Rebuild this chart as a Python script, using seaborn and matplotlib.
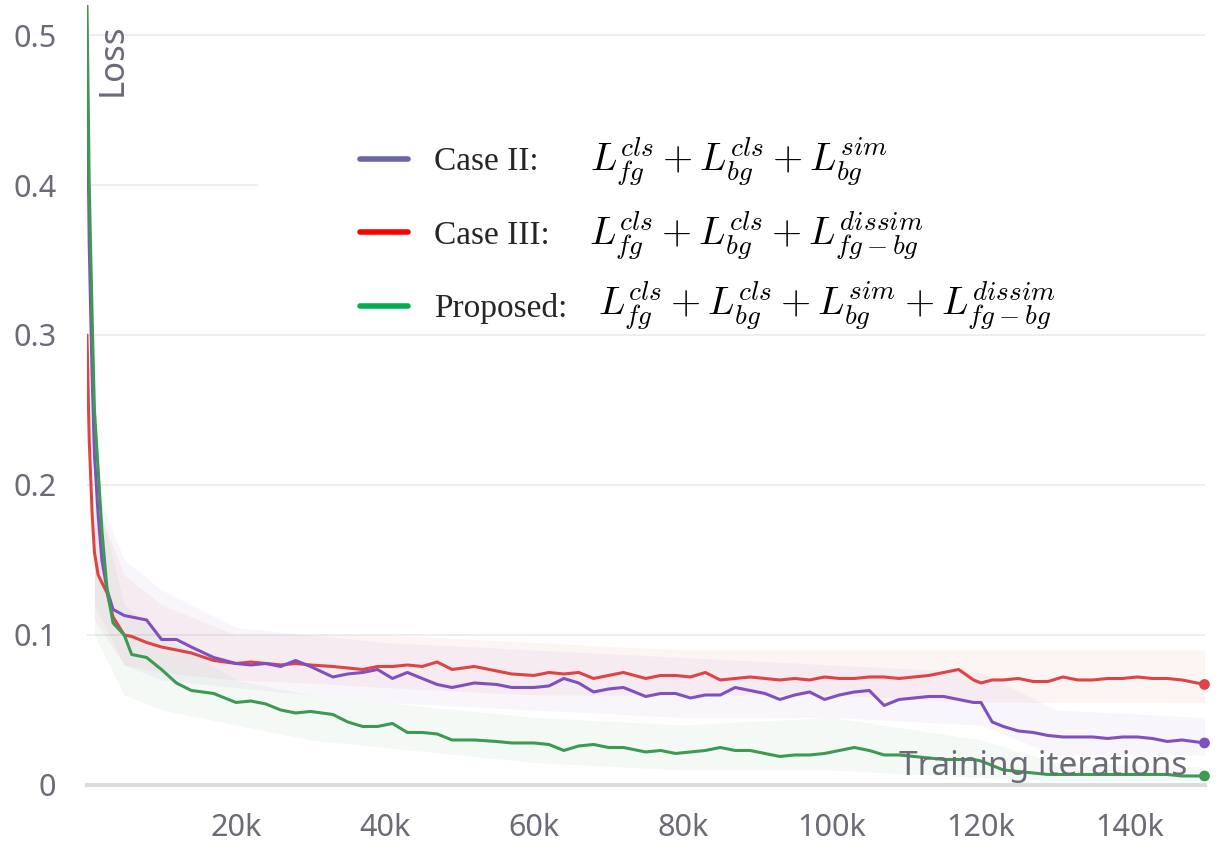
import matplotlib
matplotlib.use('Agg')
import matplotlib.pyplot as plt
from matplotlib.lines import Line2D
from matplotlib.patches import Rectangle
from matplotlib.ticker import FuncFormatter
import seaborn as sns
import pandas as pd

# training iterations (in k) where the smoothed curves were read
iters_k = [0, 0.3, 0.7, 1, 1.5, 2, 2.7, 3.5, 5, 6, 8, 10, 12, 14, 17, 20, 22, 24, 26, 28,
           30, 33, 35, 37, 39, 41, 43, 45, 47, 49, 52, 55, 57, 60, 62, 64, 66, 68, 70, 72,
           75, 77, 79, 81, 83, 85, 87, 89, 91, 93, 95, 97, 99, 101, 103, 105, 107, 109, 111, 113,
           115, 117, 119, 120, 121.5, 123, 125, 127, 129, 131, 133, 135, 137, 139, 141, 143, 145, 147, 150]

loss_case2 = [0.49, 0.36, 0.27, 0.22, 0.18, 0.15, 0.13, 0.117, 0.113, 0.112, 0.110, 0.097, 0.097, 0.092, 0.085, 0.081, 0.080, 0.081, 0.079, 0.083,
              0.079, 0.072, 0.074, 0.075, 0.077, 0.071, 0.075, 0.071, 0.067, 0.065, 0.068, 0.067, 0.065, 0.065, 0.066, 0.071, 0.068, 0.062, 0.064, 0.065,
              0.059, 0.061, 0.061, 0.058, 0.060, 0.060, 0.065, 0.063, 0.061, 0.057, 0.060, 0.062, 0.057, 0.060, 0.062, 0.063, 0.053, 0.057, 0.058, 0.059,
              0.059, 0.057, 0.055, 0.055, 0.042, 0.039, 0.036, 0.035, 0.033, 0.032, 0.032, 0.032, 0.031, 0.032, 0.032, 0.031, 0.029, 0.030, 0.028]

loss_case3 = [0.30, 0.23, 0.18, 0.155, 0.14, 0.135, 0.128, 0.112, 0.100, 0.099, 0.095, 0.092, 0.090, 0.088, 0.083, 0.081, 0.082, 0.081, 0.080, 0.081,
              0.080, 0.079, 0.078, 0.077, 0.079, 0.079, 0.080, 0.079, 0.082, 0.077, 0.079, 0.076, 0.074, 0.073, 0.075, 0.074, 0.075, 0.071, 0.073, 0.075,
              0.071, 0.073, 0.073, 0.072, 0.075, 0.070, 0.071, 0.072, 0.071, 0.070, 0.071, 0.070, 0.072, 0.071, 0.071, 0.072, 0.072, 0.071, 0.072, 0.073,
              0.075, 0.077, 0.070, 0.068, 0.070, 0.070, 0.071, 0.069, 0.069, 0.072, 0.070, 0.070, 0.071, 0.071, 0.072, 0.071, 0.071, 0.070, 0.067]

loss_proposed = [0.52, 0.40, 0.31, 0.25, 0.21, 0.17, 0.13, 0.108, 0.100, 0.087, 0.085, 0.077, 0.068, 0.063, 0.061, 0.055, 0.056, 0.054, 0.050, 0.048,
                 0.049, 0.047, 0.042, 0.039, 0.039, 0.041, 0.035, 0.035, 0.034, 0.030, 0.030, 0.029, 0.028, 0.028, 0.027, 0.023, 0.026, 0.027, 0.025, 0.025,
                 0.022, 0.023, 0.021, 0.022, 0.023, 0.025, 0.023, 0.023, 0.021, 0.019, 0.020, 0.020, 0.021, 0.023, 0.025, 0.023, 0.020, 0.020, 0.019, 0.018,
                 0.017, 0.017, 0.017, 0.016, 0.013, 0.010, 0.009, 0.008, 0.007, 0.007, 0.007, 0.007, 0.007, 0.007, 0.007, 0.007, 0.007, 0.006, 0.006]

# rough spread of the raw (unsmoothed) loss behind each curve
band_k = [1, 5, 10, 20, 30, 40, 60, 80, 100, 120, 130, 150]
case2_lo = [0.12, 0.08, 0.07, 0.065, 0.060, 0.055, 0.050, 0.045, 0.045, 0.040, 0.020, 0.020]
case2_hi = [0.20, 0.15, 0.13, 0.105, 0.100, 0.095, 0.090, 0.085, 0.080, 0.075, 0.050, 0.045]
case3_lo = [0.11, 0.08, 0.075, 0.070, 0.068, 0.065, 0.060, 0.060, 0.060, 0.055, 0.055, 0.055]
case3_hi = [0.19, 0.14, 0.12, 0.100, 0.100, 0.100, 0.095, 0.090, 0.090, 0.090, 0.090, 0.090]
prop_lo = [0.10, 0.06, 0.05, 0.040, 0.030, 0.025, 0.015, 0.010, 0.010, 0.005, 0.003, 0.003]
prop_hi = [0.20, 0.12, 0.10, 0.070, 0.060, 0.055, 0.045, 0.040, 0.045, 0.030, 0.015, 0.012]

x_ticks = [20000, 40000, 60000, 80000, 100000, 120000, 140000]
y_ticks = [0, 0.1, 0.2, 0.3, 0.4, 0.5]
y_tick_labels = ['0', '0.1', '0.2', '0.3', '0.4', '0.5']

cases = ['Case II', 'Case III', 'Proposed']
line_colors = {'Case II': '#8050c0', 'Case III': '#de4444', 'Proposed': '#3c9a52'}
legend_colors = ['#6a66a6', '#ff0000', '#00b050']
legend_names = ['Case II:', 'Case III:', 'Proposed:']
legend_math = [r'$L_{fg}^{cls}+L_{bg}^{cls}+L_{bg}^{sim}$',
               r'$L_{fg}^{cls}+L_{bg}^{cls}+L_{fg-bg}^{dissim}$',
               r'$L_{fg}^{cls}+L_{bg}^{cls}+L_{bg}^{sim}+L_{fg-bg}^{dissim}$']

# long-form table for seaborn
frames = []
for name, vals in zip(cases, [loss_case2, loss_case3, loss_proposed]):
    frames.append(pd.DataFrame({'iteration': [k * 1000 for k in iters_k], 'loss': vals, 'case': name}))
df = pd.concat(frames, ignore_index=True)
last = df.groupby('case').tail(1)

sns.set_theme(style='white')
plt.rcParams['font.family'] = ['Noto Sans', 'DejaVu Sans']
plt.rcParams['mathtext.fontset'] = 'cm'
gray = '#6b6b78'

fig = plt.figure(figsize=(12.2, 8.5), dpi=100)
ax = fig.add_axes([0.0713, 0.0765, 0.916, 0.9176])

# faint raw-loss spread
for lo, hi, name in [(case2_lo, case2_hi, 'Case II'), (case3_lo, case3_hi, 'Case III'), (prop_lo, prop_hi, 'Proposed')]:
    ax.fill_between([k * 1000 for k in band_k], lo, hi, color=line_colors[name], alpha=0.055, lw=0, zorder=1)

sns.lineplot(data=df, x='iteration', y='loss', hue='case', hue_order=['Case III', 'Case II', 'Proposed'],
             palette=line_colors, linewidth=2.2, legend=False, ax=ax, zorder=3)
sns.scatterplot(data=last, x='iteration', y='loss', hue='case', palette=line_colors,
                s=60, edgecolor='none', legend=False, ax=ax, zorder=4, clip_on=False)

ax.set_xlim(0, 150000)
ax.set_ylim(0, 0.52)
ax.set_xticks(x_ticks)
ax.xaxis.set_major_formatter(FuncFormatter(lambda v, p: f'{int(v / 1000)}k'))
ax.set_yticks(y_ticks)
ax.set_yticklabels(y_tick_labels)
ax.tick_params(axis='x', direction='inout', length=18, width=1.5, color='#d8d8d8',
               labelsize=22, labelcolor=gray, pad=11)
ax.tick_params(axis='y', length=0, labelsize=22, labelcolor=gray, pad=22)
ax.set_xlabel('')
ax.set_ylabel('')

for s in ['top', 'right', 'left']:
    ax.spines[s].set_visible(False)
ax.spines['bottom'].set_color('#dcdcdc')
ax.spines['bottom'].set_linewidth(3)
ax.grid(axis='y', color='#ebebeb', linewidth=1.2, zorder=0)
ax.set_axisbelow(True)

# white box behind the pasted legend
ax.add_patch(Rectangle((0.153, 0.586), 0.85, 0.363, transform=ax.transAxes,
                       facecolor='white', edgecolor='none', zorder=2))

ax.text(0.008, 0.976, 'Loss', transform=ax.transAxes, rotation=90, ha='left', va='top',
        fontsize=25, color=gray, zorder=6)
ax.text(0.985, 0.002, 'Training iterations', transform=ax.transAxes, ha='right', va='bottom',
        fontsize=24, color=gray, zorder=6)

handles = [Line2D([0], [0], color=c, lw=4) for c in legend_colors]
ax.legend(handles, legend_names, loc='upper left', bbox_to_anchor=(0.244, 0.818),
          frameon=False, prop={'family': 'Liberation Serif', 'size': 24},
          handlelength=1.44, handletextpad=0.8, labelspacing=1.28,
          borderpad=0, borderaxespad=0)

math_pos = [(0.450, 0.786), (0.449, 0.691), (0.457, 0.601)]
for (mx, my), expr in zip(math_pos, legend_math):
    ax.text(mx, my, expr, transform=ax.transAxes, ha='left', va='baseline',
            fontsize=28, color='black', zorder=6)

plt.savefig('out.png', dpi=100)
